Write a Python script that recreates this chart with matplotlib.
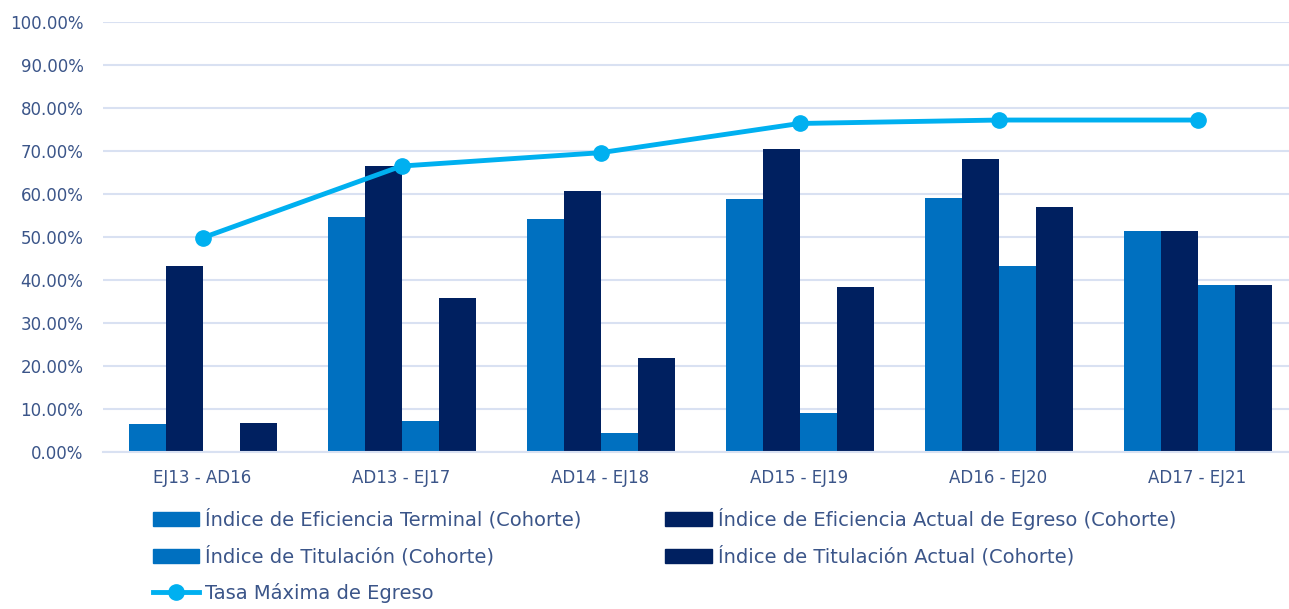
import matplotlib.pyplot as plt
import numpy as np
from matplotlib.ticker import FuncFormatter
from matplotlib.lines import Line2D
from matplotlib.patches import Patch

periodos = ['EJ13 - AD16', 'AD13 - EJ17', 'AD14 - EJ18', 'AD15 - EJ19', 'AD16 - EJ20', 'AD17 - EJ21']
eficiencia_terminal = [6.5, 54.6, 54.3, 58.8, 59.0, 51.5]
eficiencia_actual = [43.3, 66.5, 60.7, 70.5, 68.2, 51.5]
titulacion = [0.0, 7.3, 4.5, 9.0, 43.3, 38.8]
titulacion_actual = [6.8, 35.7, 21.8, 38.3, 56.9, 38.8]
tasa_maxima = [49.8, 66.5, 69.6, 76.4, 77.2, 77.2]

azul = '#0070C0'
marino = '#002060'
celeste = '#00B0F0'
texto = '#3B5589'
grid_color = '#D9E1F2'

plt.rcParams['font.family'] = ['DejaVu Sans']

fig = plt.figure(figsize=(12.89, 6.09), dpi=100)
W, H = 1289, 609
ax = fig.add_axes([103 / W, (H - 452) / H, (W - 103) / W, 430 / H])

x = np.arange(len(periodos))
w = 37 / 199
ax.bar(x - 1.5 * w, eficiencia_terminal, w, color=azul, zorder=2)
ax.bar(x - 0.5 * w, eficiencia_actual, w, color=marino, zorder=2)
ax.bar(x + 0.5 * w, titulacion, w, color=azul, zorder=2)
ax.bar(x + 1.5 * w, titulacion_actual, w, color=marino, zorder=2)
ax.plot(x, tasa_maxima, color=celeste, lw=3.5, marker='o', ms=11, zorder=3)

ax.set_xlim(-0.5, -0.5 + (W - 103) / 199)
ax.set_ylim(0, 100)
ax.set_yticks(np.arange(0, 101, 10))
ax.yaxis.set_major_formatter(FuncFormatter(lambda v, p: '{:.2f}%'.format(v)))
ax.set_xticks(x)
ax.set_xticklabels(periodos)
ax.grid(axis='y', color=grid_color, lw=1.5, zorder=0)
ax.set_axisbelow(True)
for s in ['top', 'right', 'left']:
    ax.spines[s].set_visible(False)
ax.spines['bottom'].set_color(grid_color)
ax.spines['bottom'].set_linewidth(1.5)
ax.tick_params(length=0, colors=texto, labelsize=12)
ax.tick_params(axis='y', pad=14)
ax.tick_params(axis='x', pad=12)

handles = [
    Patch(color=azul, label='Índice de Eficiencia Terminal (Cohorte)'),
    Patch(color=azul, label='Índice de Titulación (Cohorte)'),
    Line2D([], [], color=celeste, lw=3.5, marker='o', ms=11, label='Tasa Máxima de Egreso'),
    Patch(color=marino, label='Índice de Eficiencia Actual de Egreso (Cohorte)'),
    Patch(color=marino, label='Índice de Titulación Actual (Cohorte)'),
]
leg = fig.legend(handles=handles, ncol=2, loc='upper left', bbox_to_anchor=(145 / W, 1 - 500 / H),
                 frameon=False, fontsize=14, handlelength=2.4, handleheight=0.8,
                 handletextpad=0.3, labelspacing=0.85, columnspacing=4.3, borderaxespad=0)
for t in leg.get_texts():
    t.set_color(texto)

fig.savefig('out.png', dpi=100)
